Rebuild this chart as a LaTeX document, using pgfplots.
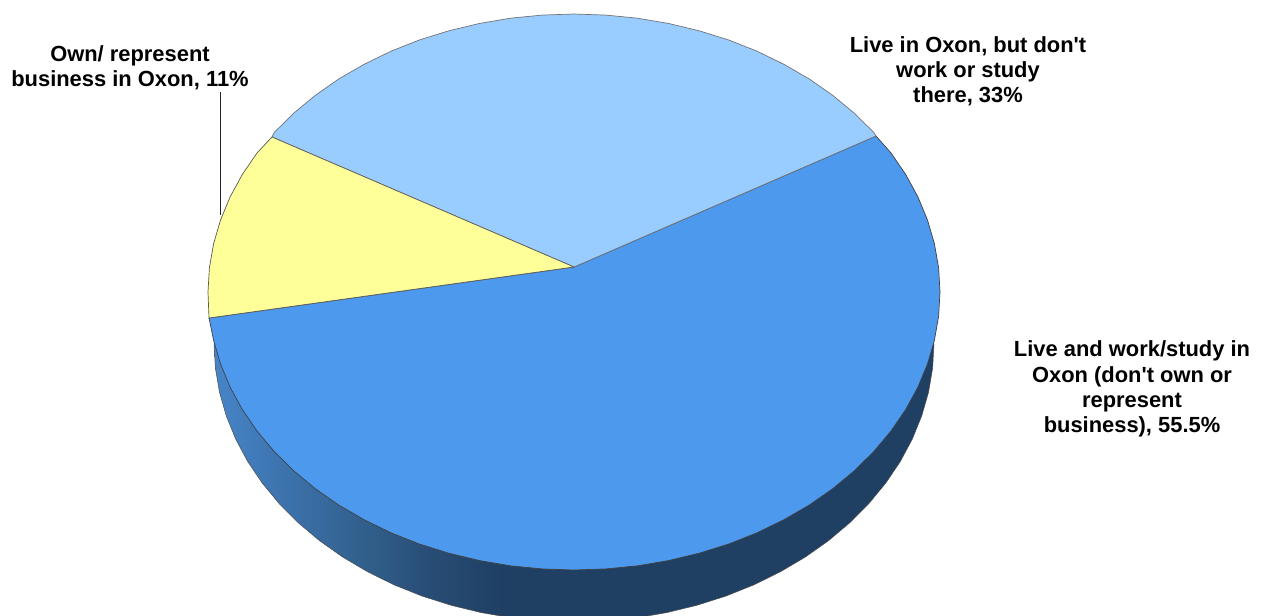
\documentclass[border=0pt]{standalone}
\usepackage{pgfplots}
\pgfplotsset{compat=1.18}
\usepackage{fontspec}
\setmainfont{Liberation Sans}
\newfontfamily\labfont{Liberation Sans}
\definecolor{topblue}{HTML}{4D99EE}
\definecolor{lightblue}{HTML}{99CCFF}
\definecolor{paleyellow}{HTML}{FFFF99}
\definecolor{s0}{HTML}{4785C8}
\definecolor{s1}{HTML}{3E76B2}
\definecolor{s2}{HTML}{32618F}
\definecolor{s3}{HTML}{284D75}
\definecolor{s4}{HTML}{1F3F63}
\pgfdeclarehorizontalshading{pieside}{100bp}{color(0bp)=(s0);color(25bp)=(s0);color(29bp)=(s1);color(35bp)=(s2);color(40bp)=(s3);color(45bp)=(s4);color(100bp)=(s4)}
\tikzset{lab/.style={font=\labfont\bfseries\fontsize{21.9bp}{25.2bp}\selectfont, align=center, text=black, inner sep=0pt}}
\begin{document}
\begin{tikzpicture}
\path[use as bounding box] (0,0) rectangle (1262bp,616bp);
\begin{axis}[
  at={(0,0)}, anchor=south west,
  width=1262bp, height=616bp, scale only axis,
  hide axis, xmin=0, xmax=1262, ymin=0, ymax=616, y dir=reverse,
  clip=true,
]
% side of the pie
\addplot[shading=pieside, draw=black!70, line width=0.5bp] coordinates {
(214,344)(215.4,368.2)(219.5,392.3)(226.3,415.9)(235.7,439.1)(247.7,461.5)(262.2,483)(279.1,503.5)(298.2,522.7)(319.4,540.6)(342.6,557)(367.5,571.7)(394,584.8)(421.9,596)(450.9,605.2)(480.8,612.5)(511.5,617.8)(542.6,620.9)(574,622)(605.4,620.9)(636.5,617.8)(667.2,612.5)(697.1,605.2)(726.1,596)(754,584.8)(780.5,571.7)(805.4,557)(828.6,540.6)(849.8,522.7)(868.9,503.5)(885.8,483)(900.3,461.5)(912.3,439.1)(921.7,415.9)(928.5,392.3)(932.6,368.2)(934,344)
} -- cycle;
% 55.5 %
\addplot[fill=topblue, draw=black!75, line width=0.7bp] coordinates {
(574,267)(209,318)(213.6,340.3)(220.5,363.9)(230.1,387.1)(242.3,409.5)(257,431)(274.2,451.5)(293.6,470.7)(315.2,488.6)(338.7,505)(364.1,519.7)(391,532.8)(419.3,544)(448.8,553.2)(479.3,560.5)(510.4,565.8)(542.1,568.9)(574,570)(605.9,568.9)(637.6,565.8)(668.7,560.5)(699.2,553.2)(728.7,544)(757,532.8)(783.9,519.7)(809.3,505)(832.8,488.6)(854.4,470.7)(873.8,451.5)(891,431)(905.7,409.5)(917.9,387.1)(927.5,363.9)(934.4,340.3)(938.6,316.2)(940,292)(938.6,267.8)(934.4,243.7)(927.5,220.1)(917.9,196.9)(905.7,174.5)(891,153)(876,136)
} -- cycle;
% 33 %
\addplot[fill=lightblue, draw=black!55, line width=0.7bp] coordinates {
(574,267)(876,136)(873.8,132.5)(854.4,113.3)(832.8,95.4)(809.3,79)(783.9,64.3)(757,51.2)(728.7,40)(699.2,30.8)(668.7,23.5)(637.6,18.2)(605.9,15.1)(574,14)(542.1,15.1)(510.4,18.2)(479.3,23.5)(448.8,30.8)(419.3,40)(391,51.2)(364.1,64.3)(338.7,79)(315.2,95.4)(293.6,113.3)(274.2,132.5)(272,137)
} -- cycle;
% 11 %
\addplot[fill=paleyellow, draw=black!65, line width=0.7bp] coordinates {
(574,267)(272,137)(257,153)(242.3,174.5)(230.1,196.9)(220.5,220.1)(213.6,243.7)(209.4,267.8)(208,292)(209,318)
} -- cycle;
% leader line
\addplot[draw=black!85, line width=1bp] coordinates {(220.5,92)(220.5,215)};
\node[lab] at (axis cs:130,68) {Own/ represent\\business in Oxon, 11\%};
\node[lab] at (axis cs:968,71) {Live in Oxon, but don't\\work or study\\there, 33\%};
\node[lab] at (axis cs:1132,389) {Live and work/study in\\Oxon (don't own or\\represent\\business), 55.5\%};
\end{axis}
\end{tikzpicture}
\end{document}
